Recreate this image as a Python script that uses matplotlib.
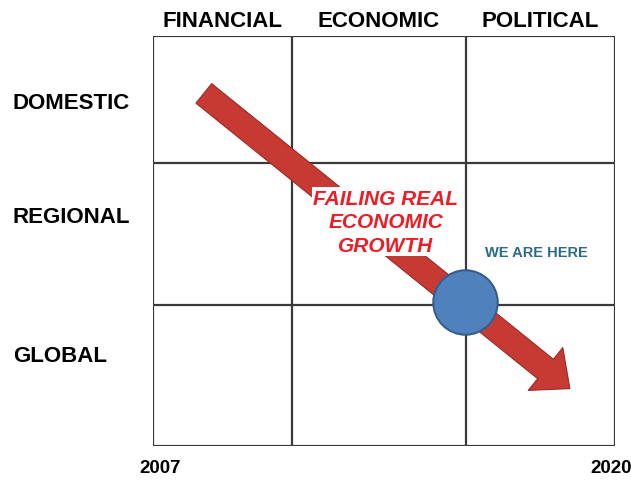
import matplotlib.pyplot as plt
from matplotlib.patches import FancyArrowPatch

# grid layout (x in years, y in row units)
col_edges = [2007, 2010.9, 2015.8, 2020]
row_edges = [0, 1.03, 2.07, 3]
col_labels = ["FINANCIAL", "ECONOMIC", "POLITICAL"]
row_labels = ["DOMESTIC", "REGIONAL", "GLOBAL"]
row_label_y = [2.51, 1.68, 0.66]
year_labels = ["2007", "2020"]
year_pos = [2007.2, 2019.9]

# trend arrow and current position
arrow_start = (2008.43, 2.58)
arrow_end = (2018.73, 0.42)
here = (2015.78, 1.054)

fig = plt.figure(figsize=(6.31, 4.81), dpi=100)
ax = fig.add_axes([153 / 631, 34 / 481, 462 / 631, 410 / 481])
ax.set_xlim(col_edges[0], col_edges[-1])
ax.set_ylim(row_edges[0], row_edges[-1])
ax.axis("off")

grid_kw = dict(color="#3a3a3a", lw=1.6, zorder=1)
ax.vlines(col_edges, row_edges[0], row_edges[-1], **grid_kw)
ax.hlines(row_edges, col_edges[0], col_edges[-1], **grid_kw)

font = "Liberation Sans"
for i, lab in enumerate(col_labels):
    xc = (col_edges[i] + col_edges[i + 1]) / 2
    ax.text(xc, 3.11, lab, ha="center", va="center", fontsize=16,
            fontweight="bold", family=font, color="#000000", clip_on=False)

for lab, yy in zip(row_labels, row_label_y):
    ax.text(2003.06, yy, lab, ha="left", va="center", fontsize=16,
            fontweight="bold", family=font, color="#000000", clip_on=False)

for lab, xx in zip(year_labels, year_pos):
    ax.text(xx, -0.16, lab, ha="center", va="center", fontsize=13.5,
            fontweight="bold", family=font, color="#000000", clip_on=False)

arrow = FancyArrowPatch(arrow_start, arrow_end,
                        arrowstyle="simple,head_length=1.25,head_width=2.2,tail_width=1.0",
                        mutation_scale=18, shrinkA=0, shrinkB=0,
                        facecolor="#c63a33", edgecolor="#9a2a25", lw=0.8, zorder=3)
ax.add_patch(arrow)

ax.scatter([here[0]], [here[1]], s=2150, color="#4f81bd", edgecolor="#385d8a",
           linewidth=1.5, zorder=5)

ax.text(2013.55, 1.64, "FAILING REAL\nECONOMIC\nGROWTH", ha="center", va="center",
        fontsize=15, fontweight="bold", style="italic", family=font,
        color="#ee1c25", linespacing=1.3, zorder=6,
        bbox=dict(facecolor="white", edgecolor="none", pad=1))

ax.text(2017.8, 1.42, "WE ARE HERE", ha="center", va="center", fontsize=10.5,
        fontweight="bold", family=font, color="#2b6a8a", zorder=6)

fig.savefig("out.png", dpi=100)
